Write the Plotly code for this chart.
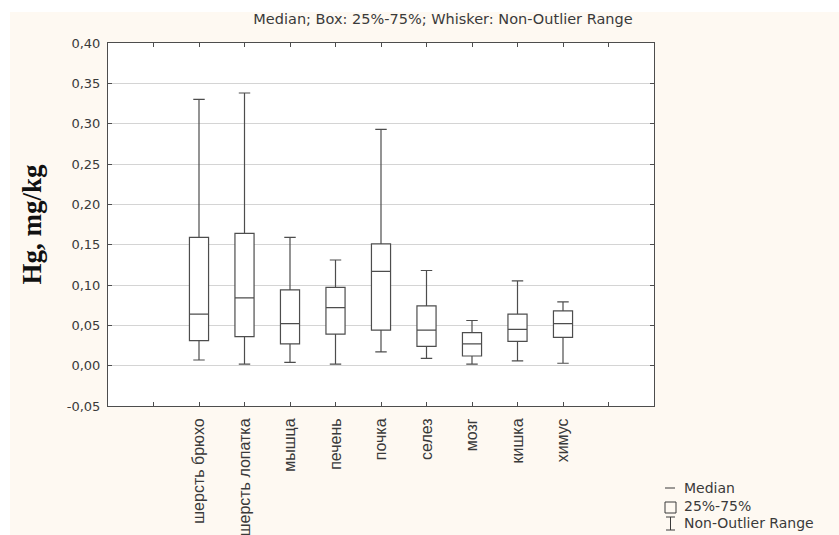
import plotly.graph_objects as go

# Mercury content by tissue (Hg, mg/kg): box statistics per tissue
categories = ["шерсть брюхо", "шерсть лопатка", "мышца", "печень", "почка",
              "селез", "мозг", "кишка", "химус"]
lower_whisker = [0.007, 0.002, 0.004, 0.002, 0.017, 0.009, 0.002, 0.006, 0.003]
q1 = [0.031, 0.036, 0.027, 0.039, 0.044, 0.024, 0.012, 0.030, 0.035]
median = [0.064, 0.084, 0.052, 0.072, 0.117, 0.044, 0.027, 0.045, 0.052]
q3 = [0.159, 0.164, 0.094, 0.097, 0.151, 0.074, 0.041, 0.064, 0.068]
upper_whisker = [0.330, 0.338, 0.159, 0.131, 0.293, 0.118, 0.056, 0.105, 0.079]

y_ticks = [-0.05, 0.00, 0.05, 0.10, 0.15, 0.20, 0.25, 0.30, 0.35, 0.40]
y_ticktext = [f"{v:.2f}".replace(".", ",") for v in y_ticks]

W, H = 839, 535
L, R, T, B = 108, 185, 43, 129
PW, PH = W - L - R, H - T - B

def px(x):
    return (x - L) / PW

def py(y):
    return (H - B - y) / PH

INK = "#4d4d4d"
TXT = "#3a3a3a"
CREAM = "#fef9f2"
FONT = "DejaVu Sans, Arial"

positions = list(range(len(categories)))

fig = go.Figure()
fig.add_trace(go.Box(
    x=positions,
    q1=q1, median=median, q3=q3,
    lowerfence=lower_whisker, upperfence=upper_whisker,
    width=0.42,
    whiskerwidth=0.6,
    fillcolor="white",
    line=dict(color=INK, width=1.2),
    boxpoints=False,
    hoverinfo="skip",
    showlegend=False,
))

tickvals = [-1] + positions + [len(categories)]
ticktext = [""] + categories + [""]

fig.update_xaxes(
    range=[-2, len(categories) + 1],
    tickvals=tickvals, ticktext=ticktext,
    tickangle=-90,
    ticks="inside", ticklen=4, tickcolor=INK,
    ticklabelstandoff=5,
    automargin=False,
    showline=True, linecolor=INK, linewidth=1, mirror="ticks",
    showgrid=False, zeroline=False,
    tickfont=dict(family="Liberation Sans, Arial", size=16, color=TXT),
)
fig.update_yaxes(
    range=[-0.05, 0.40],
    tickvals=y_ticks, ticktext=y_ticktext,
    ticks="inside", ticklen=4, tickcolor=INK,
    ticklabelstandoff=4,
    automargin=False,
    showline=True, linecolor=INK, linewidth=1, mirror="ticks",
    showgrid=True, gridcolor="#d4d4d4", gridwidth=1, zeroline=False,
    tickfont=dict(family=FONT, size=13, color=TXT),
    title=dict(text="<b>Hg, mg/kg</b>",
               font=dict(family="Liberation Serif, Times New Roman", size=27, color="#111"),
               standoff=17),
)

shapes = [
    # white strips along the top and left edges of the canvas
    dict(type="rect", xref="paper", yref="paper", layer="below",
         x0=px(0), x1=px(W), y0=py(12), y1=py(0), fillcolor="white", line_width=0),
    dict(type="rect", xref="paper", yref="paper", layer="below",
         x0=px(0), x1=px(10), y0=py(H), y1=py(0), fillcolor="white", line_width=0),
    # legend glyphs: median dash, box square, whisker I-beam
    dict(type="line", xref="paper", yref="paper",
         x0=px(665), x1=px(675), y0=py(488), y1=py(488), line=dict(color=TXT, width=1)),
    dict(type="rect", xref="paper", yref="paper",
         x0=px(665), x1=px(676), y0=py(513), y1=py(502), line=dict(color=TXT, width=1)),
    dict(type="line", xref="paper", yref="paper",
         x0=px(670.5), x1=px(670.5), y0=py(530), y1=py(517), line=dict(color=TXT, width=1)),
    dict(type="line", xref="paper", yref="paper",
         x0=px(666), x1=px(675), y0=py(517), y1=py(517), line=dict(color=TXT, width=1)),
    dict(type="line", xref="paper", yref="paper",
         x0=px(666), x1=px(675), y0=py(530), y1=py(530), line=dict(color=TXT, width=1)),
]

legend_items = ["Median", "25%-75%", "Non-Outlier Range"]
legend_y = [488, 506, 523]
annotations = [
    dict(text=t, xref="paper", yref="paper", x=px(682), y=py(yy),
         xanchor="left", yanchor="middle", showarrow=False,
         font=dict(family=FONT, size=14, color=TXT))
    for t, yy in zip(legend_items, legend_y)
]

fig.update_layout(
    width=W, height=H,
    margin=dict(l=L, r=R, t=T, b=B, pad=0, autoexpand=False),
    paper_bgcolor=CREAM,
    plot_bgcolor="white",
    title=dict(text="Median; Box: 25%-75%; Whisker: Non-Outlier Range",
               x=443 / W, xref="container", xanchor="center",
               y=1 - 19 / H, yref="container", yanchor="middle",
               font=dict(family=FONT, size=14.5, color=TXT), automargin=False),
    shapes=shapes,
    annotations=annotations,
)

fig.write_html("out.html")
